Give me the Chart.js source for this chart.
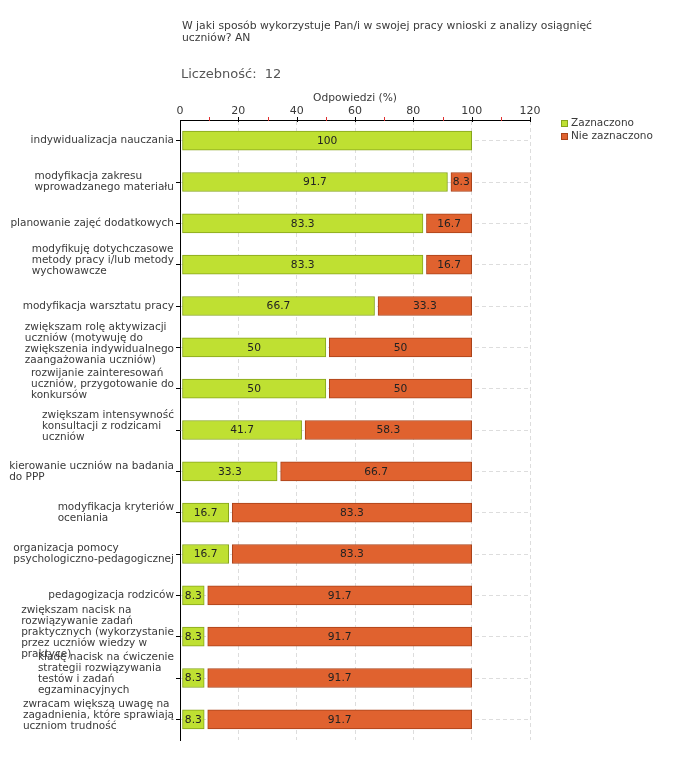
<!DOCTYPE html>
<html>
<head>
<meta charset="utf-8">
<script src="https://cdn.jsdelivr.net/npm/chart.js@4/dist/chart.umd.min.js"></script>
<style>
    html, body { margin: 0; padding: 0; background: #fff; }
    canvas { display: block; }
</style>
</head>
<body>
<canvas id="chart" width="680" height="760"></canvas>
<script>
(function () {
    "use strict";

    // --- dane ---
    const TITLE_LINES = [
        "W jaki sposób wykorzystuje Pan/i w swojej pracy wnioski z analizy osiągnięć",
        "uczniów? AN",
    ];
    const COUNT_LABEL = "Liczebność:  12";
    const AXIS_TITLE = "Odpowiedzi (%)";
    const SERIES_NAMES = ["Zaznaczono", "Nie zaznaczono"];

    const CATEGORIES = [
        ["indywidualizacja nauczania"],
        ["modyfikacja zakresu", "wprowadzanego materiału"],
        ["planowanie zajęć dodatkowych"],
        ["modyfikuję dotychczasowe", "metody pracy i/lub metody", "wychowawcze"],
        ["modyfikacja warsztatu pracy"],
        ["zwiększam rolę aktywizacji", "uczniów (motywuję do", "zwiększenia indywidualnego", "zaangażowania uczniów)"],
        ["rozwijanie zainteresowań", "uczniów, przygotowanie do", "konkursów"],
        ["zwiększam intensywność", "konsultacji z rodzicami", "uczniów"],
        ["kierowanie uczniów na badania", "do PPP"],
        ["modyfikacja kryteriów", "oceniania"],
        ["organizacja pomocy", "psychologiczno-pedagogicznej"],
        ["pedagogizacja rodziców"],
        ["zwiększam nacisk na", "rozwiązywanie zadań", "praktycznych (wykorzystanie", "przez uczniów wiedzy w", "praktyce)"],
        ["kładę nacisk na ćwiczenie", "strategii rozwiązywania", "testów i zadań", "egzaminacyjnych"],
        ["zwracam większą uwagę na", "zagadnienia, które sprawiają", "uczniom trudność"],
    ];
    const ZAZNACZONO = [100, 91.7, 83.3, 83.3, 66.7, 50, 50, 41.7, 33.3, 16.7, 16.7, 8.3, 8.3, 8.3, 8.3];
    const NIE_ZAZNACZONO = [0, 8.3, 16.7, 16.7, 33.3, 50, 50, 58.3, 66.7, 83.3, 83.3, 91.7, 91.7, 91.7, 91.7];
    const X_MIN = 0, X_MAX = 120, X_STEP = 20;
    const X_MINOR = [10, 30, 50, 70, 90, 110];

    const COLORS = {
        green: "#bfe032", greenBorder: "#86a51c",
        orange: "#e0622f", orangeBorder: "#a9421a",
        text: "#3a3a3a", grid: "#dddddd",
    };
    const FONT = "'DejaVu Sans', Verdana, sans-serif";

    // odstęp między segmentami słupka (jak w oryginale)
    const gapPlugin = {
        id: "gap",
        afterDatasetsUpdate(chart) {
            chart.data.datasets.forEach((ds, di) => {
                const shift = di === 0 ? 2 : 3.5;
                chart.getDatasetMeta(di).data.forEach((el, i) => {
                    if (ds.data[i] > 0) { el.base += shift; }
                });
            });
        },
    };

    const valuesPlugin = {
        id: "values",
        afterDatasetsDraw(chart) {
            const ctx = chart.ctx;
            ctx.save();
            ctx.font = "10.7px " + FONT;
            ctx.fillStyle = "#222";
            ctx.textAlign = "center";
            ctx.textBaseline = "middle";
            chart.data.datasets.forEach((ds, di) => {
                chart.getDatasetMeta(di).data.forEach((el, i) => {
                    const v = ds.data[i];
                    if (!v) { return; }
                    ctx.fillText(String(v), (el.x + el.base) / 2, el.y + 0.5);
                });
            });
            ctx.restore();
        },
    };

    const decorPlugin = {
        id: "decor",
        afterDraw(chart) {
            const ctx = chart.ctx;
            const area = chart.chartArea;
            const xs = chart.scales.x, ys = chart.scales.y;
            ctx.save();

            // tytuł
            ctx.fillStyle = COLORS.text;
            ctx.font = "10.8px " + FONT;
            ctx.textAlign = "left";
            ctx.textBaseline = "middle";
            TITLE_LINES.forEach((t, i) => ctx.fillText(t, 182, 26 + i * 12));

            ctx.fillStyle = "#555";
            ctx.font = "13px " + FONT;
            ctx.fillText(COUNT_LABEL, 181, 75);

            ctx.fillStyle = COLORS.text;
            ctx.font = "10.7px " + FONT;
            ctx.textAlign = "center";
            ctx.fillText(AXIS_TITLE, (area.left + area.right) / 2, 98);

            // znaczniki osi X
            ctx.lineWidth = 1;
            ctx.strokeStyle = "#000";
            for (let v = X_MIN + X_STEP; v <= X_MAX; v += X_STEP) {
                const px = Math.round(xs.getPixelForValue(v)) + 0.5;
                ctx.beginPath(); ctx.moveTo(px, area.top - 3); ctx.lineTo(px, area.top + 2); ctx.stroke();
            }
            ctx.strokeStyle = "#e03030";
            X_MINOR.forEach(v => {
                const px = Math.round(xs.getPixelForValue(v)) + 0.5;
                ctx.beginPath(); ctx.moveTo(px, area.top - 3); ctx.lineTo(px, area.top + 1); ctx.stroke();
            });

            // etykiety kategorii
            ctx.fillStyle = COLORS.text;
            ctx.font = "10.5px " + FONT;
            ctx.textAlign = "left";
            ctx.textBaseline = "middle";
            const lh = 11;
            CATEGORIES.forEach((lines, i) => {
                const cy = ys.getPixelForValue(i);
                const w = Math.max(...lines.map(l => ctx.measureText(l).width));
                const x0 = area.left - 6 - w;
                const shift = lines.length >= 3 ? -4 : 0;
                const y0 = cy - (lines.length - 1) * lh / 2 + shift;
                lines.forEach((l, k) => ctx.fillText(l, x0, y0 + k * lh));
            });

            // legenda
            ctx.font = "10.5px " + FONT;
            const lx = 561;
            chart.data.datasets.forEach((ds, di) => {
                const ly = 123 + di * 13;
                ctx.fillStyle = ds.backgroundColor;
                ctx.fillRect(lx, ly - 3, 7, 7);
                ctx.strokeStyle = ds.borderColor;
                ctx.strokeRect(lx + 0.5, ly - 2.5, 6, 6);
                ctx.fillStyle = COLORS.text;
                ctx.fillText(ds.label, lx + 10, ly);
            });
            ctx.restore();
        },
    };

    new Chart(document.getElementById("chart"), {
        type: "bar",
        data: {
            labels: CATEGORIES,
            datasets: [
                {
                    label: SERIES_NAMES[0],
                    data: ZAZNACZONO,
                    backgroundColor: COLORS.green,
                    borderColor: COLORS.greenBorder,
                    borderWidth: 1,
                    borderSkipped: false,
                    barThickness: 19,
                },
                {
                    label: SERIES_NAMES[1],
                    data: NIE_ZAZNACZONO,
                    backgroundColor: COLORS.orange,
                    borderColor: COLORS.orangeBorder,
                    borderWidth: 1,
                    borderSkipped: false,
                    barThickness: 19,
                },
            ],
        },
        options: {
            indexAxis: "y",
            responsive: false,
            animation: false,
            events: [],
            layout: { padding: { left: 0, right: 150, top: 0, bottom: 20 } },
            plugins: { legend: { display: false }, tooltip: { enabled: false } },
            scales: {
                x: {
                    position: "top",
                    stacked: true,
                    min: X_MIN,
                    max: X_MAX,
                    afterFit(scale) { scale.height = 120; },
                    ticks: { stepSize: X_STEP, padding: 2, color: COLORS.text, font: { family: FONT, size: 11 } },
                    grid: { color: COLORS.grid, drawTicks: false },
                    border: { color: "#000", width: 1, dash: [4, 3] },
                },
                y: {
                    stacked: true,
                    afterFit(scale) { scale.width = 180; },
                    ticks: { display: false },
                    grid: { offset: false, color: COLORS.grid, drawTicks: true, tickLength: 4, tickColor: "#000" },
                    border: { color: "#000", width: 1, dash: [4, 3] },
                },
            },
        },
        plugins: [gapPlugin, valuesPlugin, decorPlugin],
    });
})();
</script>
</body>
</html>
